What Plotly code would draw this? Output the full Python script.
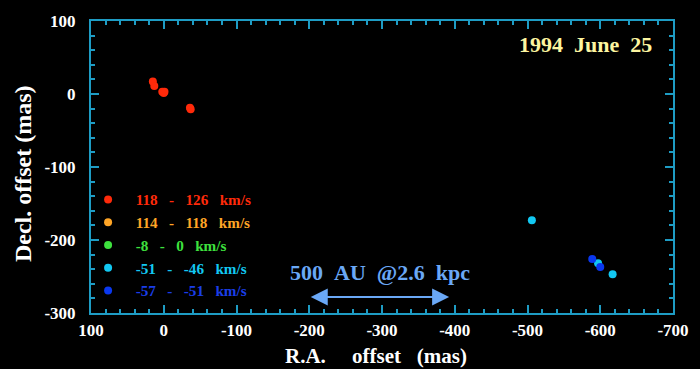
import plotly.graph_objects as go

# Spot positions (R.A. offset, Decl. offset) in mas, grouped by velocity range
red_ra = [15, 13, 2, 0, -1, -36, -37]
red_dec = [17, 11, 3, 1.5, 3, -19, -21]
orange_ra, orange_dec = [None], [None]
green_ra, green_dec = [None], [None]
cyan_ra = [-506, -597, -617]
cyan_dec = [-173, -232, -247]
blue_ra = [-589, -600]
blue_dec = [-226, -237]

series_names = ["118   -   126   km/s", "114   -   118   km/s", "-8   -   0   km/s",
                "-51   -   -46   km/s", "-57   -   -51   km/s"]
series_colors = ["#ff2a0a", "#ffa526", "#3ee03e", "#12c8f2", "#0a38f0"]
text_colors = ["#ff2a0a", "#ffa526", "#3ee03e", "#12c8f2", "#1a3ee8"]

x_ticks = [100, 0, -100, -200, -300, -400, -500, -600, -700]
x_ticktext = ["100", "0", "-100", "-200", "-300", "-400", "-500", "-600", "-700"]
y_ticks = [100, 0, -100, -200, -300]
y_ticktext = ["100", "0", "-100", "-200", "-300"]

# Linear scale bar: 500 AU at a distance of 2.6 kpc
scale_au = 500
dist_kpc = 2.6
scale_mas = scale_au / (dist_kpc * 1000) * 1000
bar_start = -200

AXIS = "#1e9cc4"
FONT = "Liberation Serif"
NB = "\u00a0"

fig = go.Figure()
data = [(red_ra, red_dec), (orange_ra, orange_dec), (green_ra, green_dec),
        (cyan_ra, cyan_dec), (blue_ra, blue_dec)]
for (xs, ys), name, col, tcol in zip(data, series_names, series_colors, text_colors):
    fig.add_trace(go.Scatter(
        x=xs, y=ys, mode="markers",
        name=f"{NB * 2}<span style='color:{tcol}'>{name.replace(' ', NB)}</span>",
        marker=dict(color=col, size=8, line=dict(width=0)),
    ))

axis_common = dict(
    showgrid=False, zeroline=False, showline=True, linecolor=AXIS, linewidth=2,
    mirror="ticks", ticks="inside", ticklen=8, tickwidth=2, tickcolor=AXIS,
    tickfont=dict(family=FONT, size=17, color="white", weight="bold"),
    tickmode="array",
    minor=dict(tickmode="linear", tick0=0, dtick=20, ticks="inside",
               ticklen=4, tickwidth=1.5, tickcolor=AXIS),
)

fig.update_xaxes(range=[100, -700], tickvals=x_ticks, ticktext=x_ticktext,
                 ticklabelstandoff=1, **axis_common)
fig.update_yaxes(range=[-300, 100], tickvals=y_ticks, ticktext=y_ticktext,
                 ticklabelstandoff=10, **axis_common)

annotations = [
    dict(text="Decl." + NB + "offset" + NB + "(mas)", xref="paper", yref="paper",
         x=-0.117, y=0.479, xanchor="center", yanchor="middle", textangle=-90,
         showarrow=False, font=dict(family=FONT, size=24, color="white", weight="bold")),
    dict(text="R.A." + NB * 5 + "offset" + NB * 3 + "(mas)", xref="paper", yref="paper",
         x=0.49, y=-0.148, xanchor="center", yanchor="middle", showarrow=False,
         font=dict(family=FONT, size=21, color="white", weight="bold")),
    dict(text="1994" + NB * 2 + "June" + NB * 2 + "25", xref="paper", yref="paper",
         x=0.8505, y=0.918, xanchor="center", yanchor="middle", showarrow=False,
         font=dict(family=FONT, size=22, color="#fdf5a0", weight="bold")),
    dict(text=f"{scale_au}" + NB * 2 + "AU" + NB * 2 + f"@{dist_kpc}" + NB * 2 + "kpc",
         xref="paper", yref="paper", x=0.3385, y=0.1404, xanchor="left", yanchor="middle",
         showarrow=False, font=dict(family=FONT, size=22, color="#6aa8f6", weight="bold")),
    dict(text="", x=bar_start - scale_mas, y=-278, ax=bar_start, ay=-278,
         xref="x", yref="y", axref="x", ayref="y", showarrow=True,
         arrowside="end+start", arrowhead=2, arrowsize=1.7, arrowwidth=2,
         arrowcolor="#6aa8f6"),
]

fig.update_layout(
    width=700, height=369,
    margin=dict(l=91, r=27, t=21, b=56),
    paper_bgcolor="black", plot_bgcolor="black",
    showlegend=True,
    legend=dict(x=-0.005, y=0.445, xanchor="left", yanchor="top",
                bgcolor="rgba(0,0,0,0)", borderwidth=0,
                font=dict(family=FONT, size=15.2, color="white", weight="bold"),
                itemsizing="trace"),
    annotations=annotations,
)

fig.write_html("out.html")
